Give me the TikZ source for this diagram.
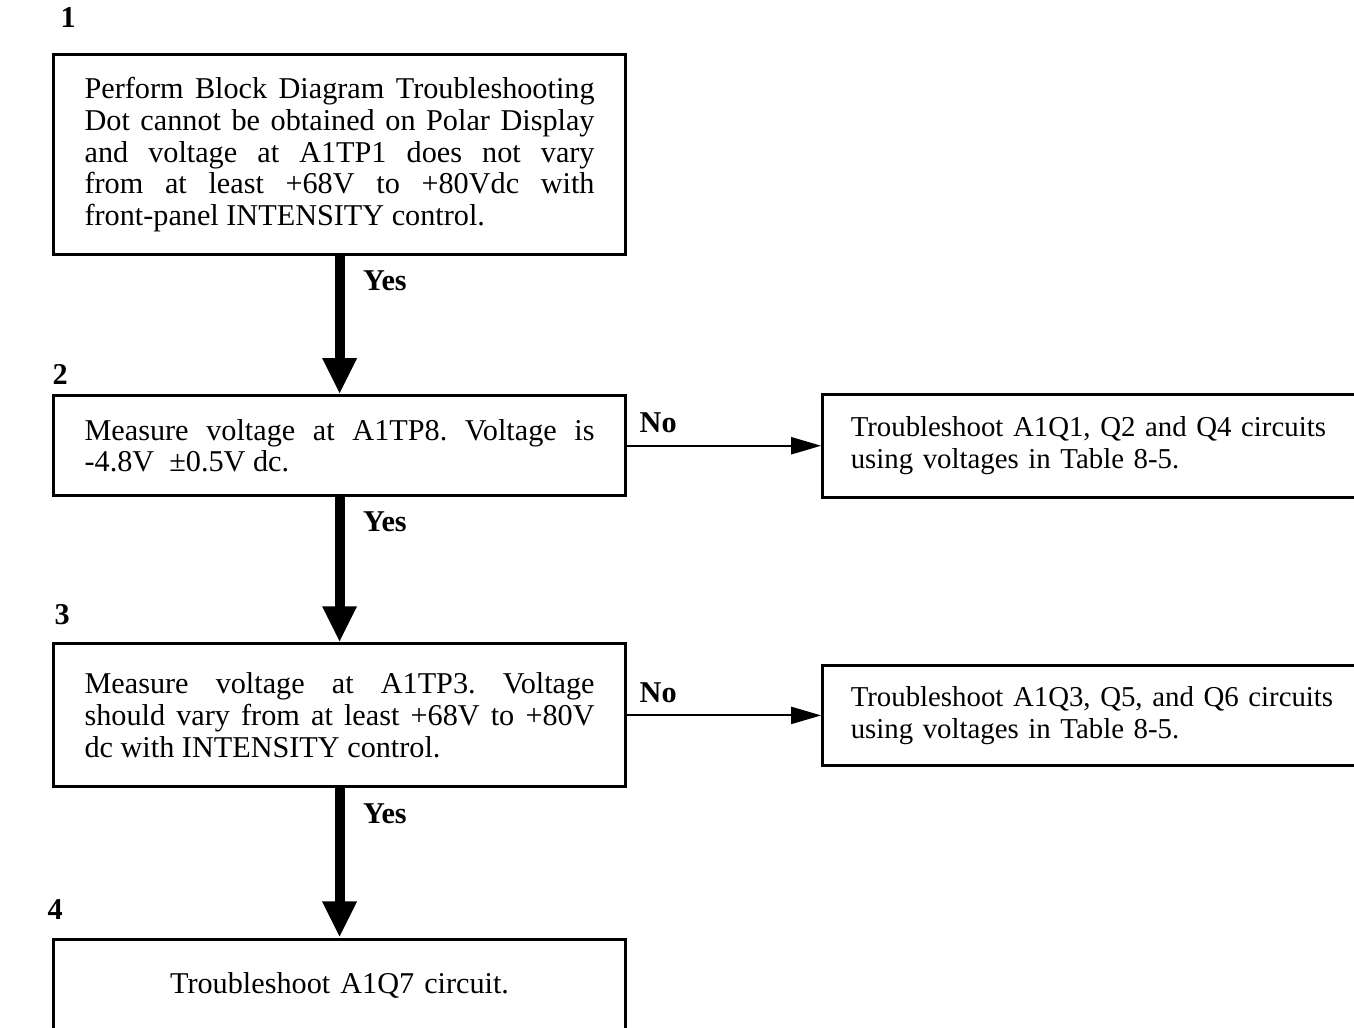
\documentclass[tikz,border=0pt]{standalone}
\usepackage{fontspec}
\setmainfont{Liberation Serif}
\usetikzlibrary{positioning, arrows.meta}

\begin{document}
\frenchspacing
\begin{tikzpicture}[
  stepbox/.style={draw, line width=0.9pt, align=justify, font=\fontsize{8.6}{9.1}\selectfont,
                  text width=5.1cm, inner xsep=0.31cm, inner ysep=0pt, anchor=north west},
  sidebox/.style={stepbox, text width=5.3cm, inner xsep=0.28cm, align=left,
                  font=\fontsize{8.2}{9.1}\selectfont},
  lbl/.style={font=\fontsize{8.6}{9}\selectfont\bfseries, inner sep=1pt},
  num/.style={font=\fontsize{8.6}{9}\selectfont\bfseries, inner sep=0pt, anchor=south west},
  yes/.style={line width=2.8pt, -{Triangle[length=0.36cm, width=0.32cm]}},
  no/.style={line width=0.6pt, -{Triangle[length=0.3cm, width=0.17cm]}}]
  \useasboundingbox (0,0) rectangle (13.54,-10.28);
  % main column
  \node[stepbox, minimum height=2.0cm] (box1) at (0.52,-0.53)
    {\hyphenpenalty=10000 Perform Block Diagram Troubleshooting\linebreak Dot cannot be obtained on Polar Display\linebreak
     and voltage at A1TP1 does not vary\linebreak from at least +68V to +80Vdc with\linebreak
     front-panel INTENSITY control.};
  \node[stepbox, minimum height=1.0cm, below=1.38cm of box1.south west, anchor=north west] (box2)
    {Measure voltage at A1TP8. Voltage is\linebreak -4.8V \ ±0.5V dc.};
  \node[stepbox, minimum height=1.43cm, below=1.45cm of box2.south west, anchor=north west] (box3)
    {Measure voltage at A1TP3. Voltage\linebreak should vary from at least +68V to +80V\linebreak
     dc with INTENSITY control.};
  \node[stepbox, minimum height=0.92cm, align=center, below=1.49cm of box3.south west, anchor=north west] (box4)
    {Troubleshoot A1Q7 circuit.};
  % side boxes
  \node[sidebox, minimum height=1.03cm, right=1.94cm of box2.east] (fix1)
    {Troubleshoot A1Q1, Q2 and Q4 circuits\\using voltages in Table 8-5.};
  \node[sidebox, minimum height=1.0cm, right=1.94cm of box3.east] (fix2)
    {Troubleshoot A1Q3, Q5, and Q6 circuits\\using voltages in Table 8-5.};
  % step numbers
  \node[num] (n1) at ([xshift=0.08cm, yshift=0.25cm]box1.north west) {1};
  \node[num] (n2) at ([xshift=0.0cm, yshift=0.09cm]box2.north west) {2};
  \node[num] (n3) at ([xshift=0.02cm, yshift=0.17cm]box3.north west) {3};
  \node[num] (n4) at ([xshift=-0.05cm, yshift=0.17cm]box4.north west) {4};
  % connectors
  \draw[yes] (box1.south) -- node[lbl, pos=0.18, right=0.15cm] {Yes} (box2.north);
  \draw[yes] (box2.south) -- node[lbl, pos=0.17, right=0.15cm] {Yes} (box3.north);
  \draw[yes] (box3.south) -- node[lbl, pos=0.17, right=0.15cm] {Yes} (box4.north);
  \draw[no] (box2.east) -- node[lbl, pos=0.16, above=0.08cm] {No} (fix1.west);
  \draw[no] (box3.east) -- node[lbl, pos=0.16, above=0.08cm] {No} (fix2.west);
\end{tikzpicture}
\end{document}
